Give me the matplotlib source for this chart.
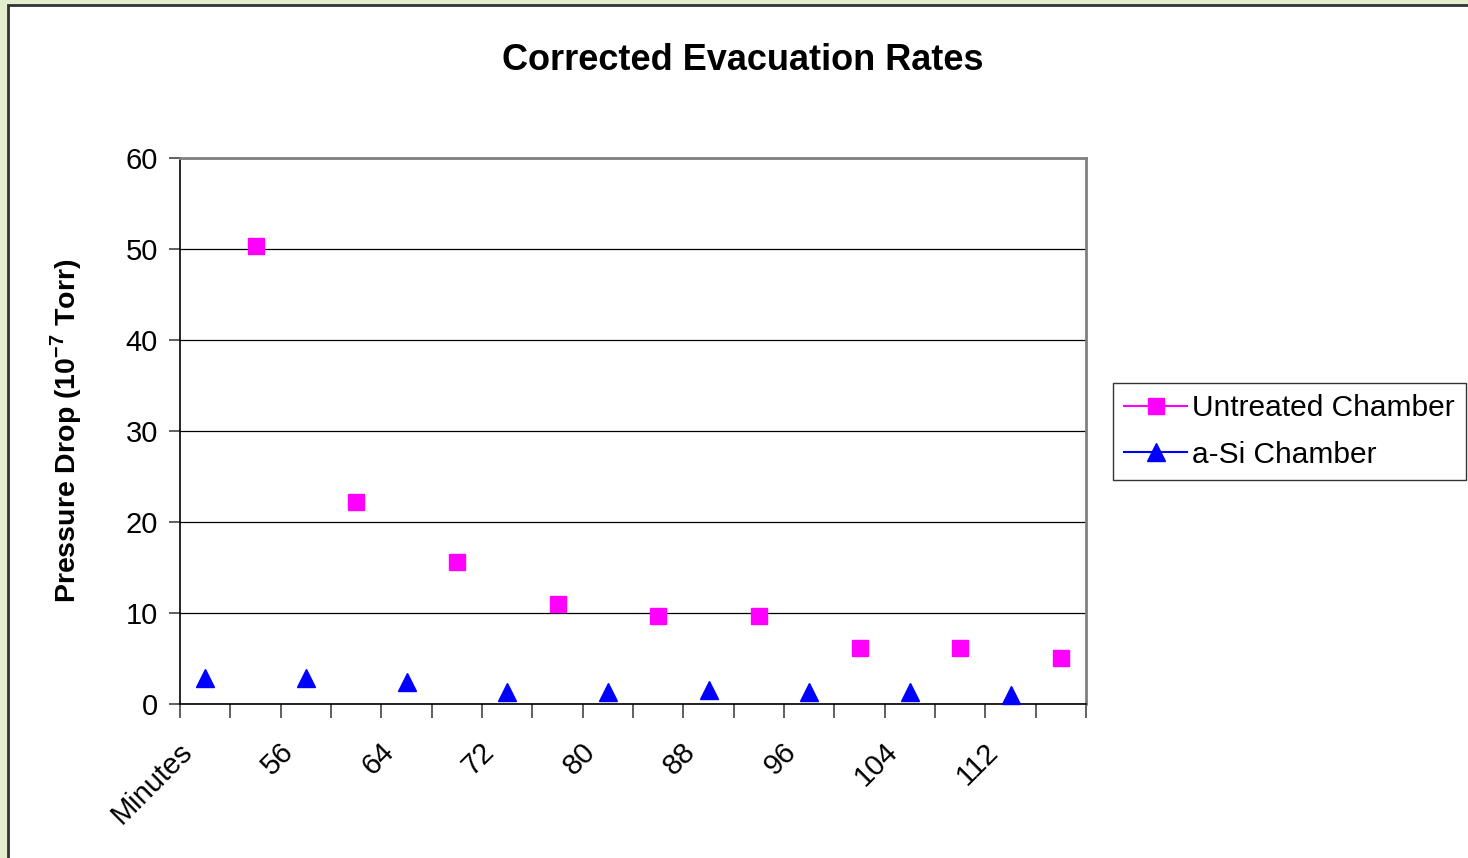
import matplotlib
matplotlib.use("Agg")
import matplotlib.pyplot as plt
import matplotlib.transforms as mtransforms
from matplotlib.lines import Line2D
from matplotlib.patches import Rectangle

plt.rcParams['font.family'] = ['Liberation Sans', 'DejaVu Sans']

categories = ["Minutes", "52", "56", "60", "64", "68", "72", "76", "80",
              "84", "88", "92", "96", "100", "104", "108", "112", "116"]
shown_labels = ["Minutes", "", "56", "", "64", "", "72", "", "80",
                "", "88", "", "96", "", "104", "", "112", ""]
untreated_pos = [2, 4, 6, 8, 10, 12, 14, 16, 18]
untreated = [50.3, 22.2, 15.6, 11.0, 9.7, 9.7, 6.2, 6.2, 5.1]
asi_pos = [1, 3, 5, 7, 9, 11, 13, 15, 17]
asi = [2.9, 2.9, 2.4, 1.3, 1.3, 1.5, 1.3, 1.3, 1.0]

fig = plt.figure(figsize=(14.68, 8.58), dpi=100, facecolor='#e3eecf')
# white chart area with dark frame (slide background around it)
fig.patches.append(Rectangle((8 / 1468, -0.05), 1.1, 1 - 5 / 858 + 0.05,
                             transform=fig.transFigure, facecolor='white',
                             edgecolor='#333333', linewidth=2, zorder=-5))

ax = fig.add_axes([180 / 1468, 1 - 704 / 858, (1086 - 180) / 1468, (704 - 158) / 858])
ax.set_zorder(2)
ax.set_facecolor('white')

ax.plot(untreated_pos, untreated, linestyle='none', marker='s', markersize=11,
        color='#ff00ff', zorder=3, clip_on=False)
ax.plot(asi_pos, asi, linestyle='none', marker='^', markersize=13,
        color='#0000ff', zorder=3, clip_on=False)

ax.set_xlim(0.5, len(categories) + 0.5)
ax.set_ylim(0, 60)
ax.set_yticks([0, 10, 20, 30, 40, 50, 60])
ax.yaxis.grid(True, color='black', linewidth=0.9)
ax.set_axisbelow(True)

ax.set_xticks(range(1, len(categories) + 1))
ax.set_xticklabels(shown_labels, rotation=45, ha='right', va='center',
                   rotation_mode='anchor', fontsize=21)
ax.tick_params(axis='x', which='major', length=0, pad=31)
shift = mtransforms.ScaledTranslation(-17 / 100, 0, fig.dpi_scale_trans)
for lbl in ax.get_xticklabels():
    lbl.set_transform(lbl.get_transform() + shift)
ax.set_xticks([i + 0.5 for i in range(0, len(categories) + 1)], minor=True)
ax.tick_params(axis='x', which='minor', length=10, width=1.2, color='#444444')
ax.tick_params(axis='y', length=8, width=1.2, labelsize=21, pad=8, color='#444444')

for s in ['left', 'bottom']:
    ax.spines[s].set_color('black')
    ax.spines[s].set_linewidth(1.2)
for s in ['top', 'right']:
    ax.spines[s].set_color('#808080')
    ax.spines[s].set_linewidth(2)

ax.set_ylabel(r'Pressure Drop (10$^{\mathregular{-7}}$ Torr)', fontsize=20.5,
              fontweight='bold')
ax.yaxis.set_label_coords(-0.106, 0.5)

fig.text(743 / 1468, 1 - 60 / 858, 'Corrected Evacuation Rates', ha='center',
         va='center', fontsize=26, fontweight='bold')

handles = [Line2D([], [], color='#ff00ff', marker='s', markersize=11, linewidth=1.5),
           Line2D([], [], color='#0000ff', marker='^', markersize=13, linewidth=1.5)]
leg = fig.legend(handles, ['Untreated Chamber', 'a-Si Chamber'],
                 loc='upper left', bbox_to_anchor=(1113 / 1468, 1 - 383 / 858),
                 fontsize=21.5, frameon=True, fancybox=False, handlelength=2.1,
                 handletextpad=0.15, borderpad=0.38, labelspacing=0.62,
                 borderaxespad=0)
leg.get_frame().set_edgecolor('black')
leg.get_frame().set_linewidth(1)

fig.savefig('out.png', dpi=100, facecolor=fig.get_facecolor())
